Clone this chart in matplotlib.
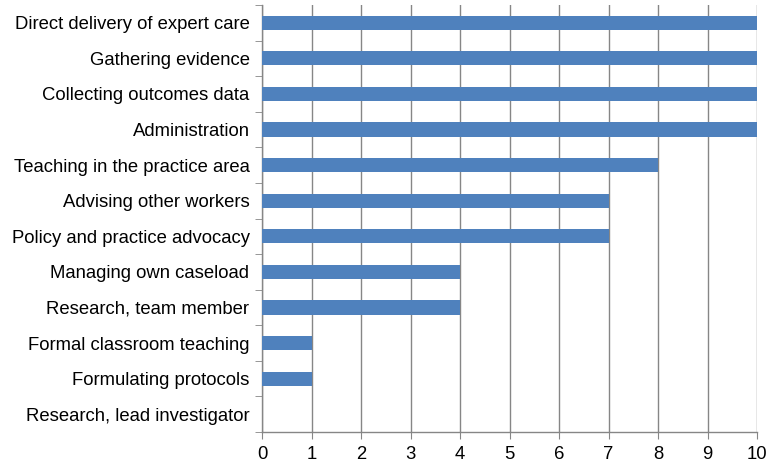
import matplotlib

matplotlib.use("Agg")
import matplotlib.pyplot as plt
import numpy as np

categories = [
    "Direct delivery of expert care",
    "Gathering evidence",
    "Collecting outcomes data",
    "Administration",
    "Teaching in the practice area",
    "Advising other workers",
    "Policy and practice advocacy",
    "Managing own caseload",
    "Research, team member",
    "Formal classroom teaching",
    "Formulating protocols",
    "Research, lead investigator",
]
values = [10, 10, 10, 10, 8, 7, 7, 4, 4, 1, 1, 0]

BAR = "#4F81BD"
GRID = "#868686"

plt.rcParams["font.family"] = ["Liberation Sans", "DejaVu Sans"]

fig = plt.figure(figsize=(7.66, 4.63), dpi=100)
ax = fig.add_axes([262 / 766, 1 - 432 / 463, (757 - 262) / 766, (432 - 5) / 463])

n = len(categories)
y = np.arange(n)
ax.barh(y, values, height=0.4, color=BAR, linewidth=0, zorder=3)

ax.set_xlim(0, 10)
ax.set_ylim(n - 0.5, -0.5)
ax.set_xticks(np.arange(0, 11))
ax.tick_params(axis="x", direction="out", length=5, color=GRID, labelsize=13.3, pad=5)

# category labels centred on bars, tick marks on boundaries
ax.set_yticks(y)
ax.set_yticklabels(categories, fontsize=13.3)
ax.tick_params(axis="y", which="major", length=0, pad=9)
ax.set_yticks(np.arange(n + 1) - 0.5, minor=True)
ax.tick_params(axis="y", which="minor", direction="out", length=5, color=GRID)

ax.grid(axis="x", color=GRID, linewidth=1.0, zorder=0)
for side in ["top", "right"]:
    ax.spines[side].set_visible(False)
for side in ["left", "bottom"]:
    ax.spines[side].set_color(GRID)
    ax.spines[side].set_linewidth(1.0)

fig.savefig("out.png", dpi=100, facecolor="white")
